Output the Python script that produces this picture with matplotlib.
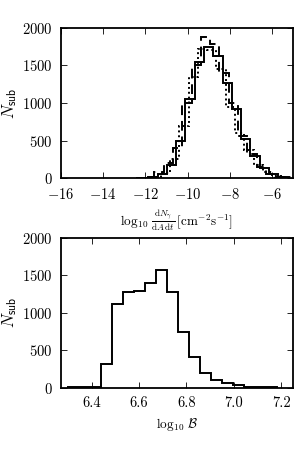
import numpy as np
import matplotlib
matplotlib.use('Agg')
import matplotlib.pyplot as plt

# ---- datos ----
# panel superior: tres histogramas del flujo
bordes_flujo_a = [-12.30, -11.86, -11.42, -10.98, -10.54, -10.10, -9.66, -9.22,
                  -8.78, -8.34, -7.90, -7.46, -7.02, -6.58, -6.14, -5.70, -5.26]
n_solido = [5, 15, 60, 170, 500, 1050, 1550, 1740, 1620, 1270, 920, 520, 300, 130, 50, 15]

bordes_flujo_b = [-12.45, -12.01, -11.57, -11.13, -10.69, -10.25, -9.81, -9.37,
                  -8.93, -8.49, -8.05, -7.61, -7.17, -6.73, -6.29, -5.85, -5.41]
n_guiones = [5, 20, 80, 200, 400, 1000, 1500, 1880, 1780, 1400, 1000, 560, 320, 150, 60, 20]

bordes_flujo_c = [-12.15, -11.71, -11.27, -10.83, -10.39, -9.95, -9.51, -9.07,
                  -8.63, -8.19, -7.75, -7.31, -6.87, -6.43, -5.99, -5.55, -5.11]
n_puntos = [5, 20, 70, 250, 700, 1350, 1720, 1700, 1450, 950, 600, 380, 180, 80, 30, 10]

# panel inferior: histograma de B
bordes_b = [6.300, 6.346, 6.393, 6.439, 6.486, 6.532, 6.578, 6.625, 6.671, 6.718,
            6.764, 6.810, 6.857, 6.903, 6.950, 6.996, 7.042, 7.089, 7.135, 7.182]
n_b = [8, 12, 18, 320, 1110, 1270, 1290, 1395, 1565, 1275, 750, 410, 200, 110,
       65, 35, 15, 9, 7]

plt.rcParams.update({'font.size': 10.5,
                     'font.family': 'serif',
                     'font.serif': ['cmr10', 'DejaVu Serif'],
                     'mathtext.fontset': 'cm',
                     'axes.formatter.use_mathtext': True,
                     'axes.linewidth': 1.3})

fig = plt.figure(figsize=(3.0, 4.5), dpi=100)
ax1 = fig.add_axes([0.203, 0.604, 0.774, 0.334])
ax2 = fig.add_axes([0.203, 0.138, 0.774, 0.334])

ax1.stairs(n_solido, bordes_flujo_a, color='k', lw=1.4, ls='-')
ax1.stairs(n_guiones, bordes_flujo_b, color='k', lw=1.4, ls=(0, (5, 3)))
ax1.stairs(n_puntos, bordes_flujo_c, color='k', lw=1.4, ls=(0, (1, 1.5)))
ax1.set_xlim(-16, -5)
ax1.set_ylim(0, 2000)
ax1.set_xticks([-16, -14, -12, -10, -8, -6])
ax1.set_yticks([0, 500, 1000, 1500, 2000])
ax1.set_ylabel(r'$N_{\mathsf{sub}}$', fontsize=12, labelpad=2)
ax1.set_xlabel(r'$\log_{10}\,\frac{\mathrm{d}N_\gamma}{\mathrm{d}A\,\mathrm{d}t}\,[\mathrm{cm}^{-2}\mathrm{s}^{-1}]$',
               fontsize=9.5)

ax2.stairs(n_b, bordes_b, color='k', lw=1.4)
ax2.set_xlim(6.27, 7.25)
ax2.set_ylim(0, 2000)
ax2.set_xticks([6.4, 6.6, 6.8, 7.0, 7.2])
ax2.set_xticklabels(['6.4', '6.6', '6.8', '7.0', '7.2'])
ax2.set_yticks([0, 500, 1000, 1500, 2000])
ax2.set_ylabel(r'$N_{\mathsf{sub}}$', fontsize=12, labelpad=2)
ax2.set_xlabel(r'$\log_{10}\,\mathcal{B}$', fontsize=9.5)

for ax in (ax1, ax2):
    ax.tick_params(direction='in', top=True, right=True, length=4, width=0.6)
    ax.tick_params(axis='y', pad=6)
    ax.tick_params(axis='x', pad=6)

fig.savefig('out.png', dpi=100)
